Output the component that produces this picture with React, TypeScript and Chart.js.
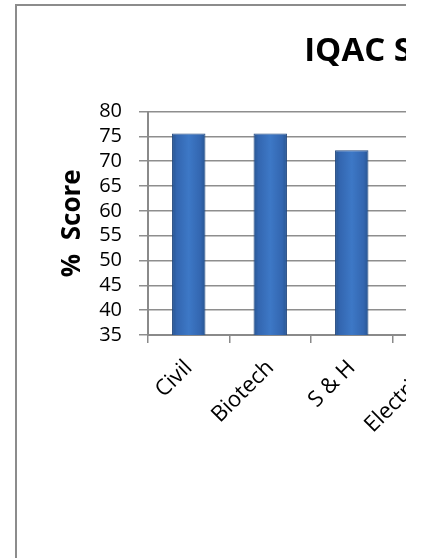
import React, { useEffect, useRef } from "react";
import { Chart, registerables } from "chart.js";

Chart.register(...registerables);

const categories = ["Civil", "Biotech", "S & H", "Electrical"];
const scores = [75.6, 75.6, 72.2, 70];
const yMin = 35;
const yMax = 80;
const yStep = 5;
const chartTitle = "IQAC Score";
const yTitle = "%  Score";

export default function App() {
  const ref = useRef<HTMLCanvasElement | null>(null);

  useEffect(() => {
    if (!ref.current) return;
    const chart = new Chart(ref.current, {
      type: "bar",
      data: {
        labels: categories,
        datasets: [
          {
            data: scores,
            backgroundColor: (c: any) => {
              const ch = c.chart;
              const xs = ch.scales && ch.scales.x;
              if (!xs || c.dataIndex === undefined) return "#3a72c0";
              const cx = xs.getPixelForValue(c.dataIndex);
              if (!Number.isFinite(cx)) return "#3a72c0";
              const half = 17;
              const g = ch.ctx.createLinearGradient(cx - half, 0, cx + half, 0);
              g.addColorStop(0, "#27548f");
              g.addColorStop(0.15, "#3366b0");
              g.addColorStop(0.5, "#3d78c6");
              g.addColorStop(0.85, "#3366b0");
              g.addColorStop(1, "#27548f");
              return g;
            },
            borderColor: "#22487f",
            borderWidth: 1,
            barPercentage: 0.41,
            categoryPercentage: 1,
            yAxisID: "y",
          },
        ],
      },
      options: {
        responsive: false,
        animation: false,
        layout: { padding: { left: 0, right: 0, top: 0, bottom: 33 } },
        plugins: {
          legend: { display: false },
          tooltip: { enabled: false },
          title: {
            display: true,
            text: chartTitle,
            color: "#000",
            font: { family: "Open Sans", size: 33, weight: "bold" },
            padding: { top: 26, bottom: 40 },
          },
        },
        scales: {
          x: {
            offset: true,
            grid: {
              offset: true,
              drawOnChartArea: false,
              drawTicks: true,
              tickLength: 8,
              color: "#8a8a8a",
              lineWidth: 1.5,
            },
            border: { color: "#8a8a8a", width: 2 },
            ticks: {
              autoSkip: false,
              maxRotation: 45,
              minRotation: 45,
              padding: 12,
              color: "#000",
              font: { family: "Open Sans", size: 22 },
            },
            afterFit: (s: any) => {
              s.height = 190;
            },
          },
          y: {
            position: "left",
            min: yMin,
            max: yMax,
            ticks: {
              stepSize: yStep,
              autoSkip: false,
              padding: 17,
              color: "#000",
              font: { family: "Open Sans", size: 20 },
            },
            grid: {
              color: "#8e8e8e",
              lineWidth: 1.5,
              tickLength: 9,
            },
            border: { color: "#8a8a8a", width: 2 },
            title: {
              display: true,
              text: yTitle,
              color: "#000",
              font: { family: "Open Sans", size: 26, weight: "bold" },
              padding: { top: 40, bottom: 0 },
            },
            afterFit: (s: any) => {
              s.width = 131;
            },
          },
          spacer: {
            position: "right",
            min: yMin,
            max: yMax,
            grid: { drawOnChartArea: false, drawTicks: false },
            border: { display: false },
            ticks: { display: false },
            afterFit: (s: any) => {
              s.width = 297;
            },
          },
        },
      },
    });
    return () => chart.destroy();
  }, []);

  return (
    <div
      style={{
        position: "absolute",
        left: 15,
        top: 4,
        width: 389,
        height: 552,
        overflow: "hidden",
        borderLeft: "2px solid #8c8c8c",
        borderTop: "2px solid #8c8c8c",
        borderBottom: "1px solid #ececec",
        background: "#fff",
      }}
    >
      <canvas
        ref={ref}
        width={754}
        height={552}
        style={{ position: "absolute", left: 0, top: 0, width: 754, height: 552 }}
      />
    </div>
  );
}
